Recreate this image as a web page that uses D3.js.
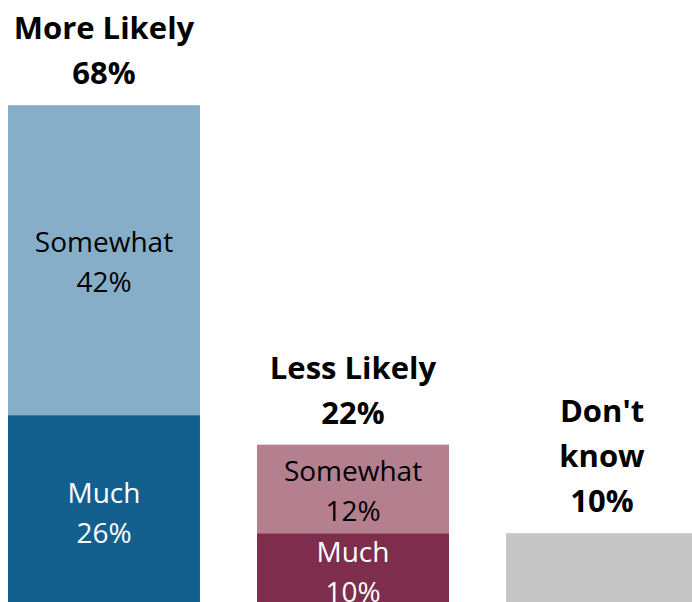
<!DOCTYPE html>
<html>
<head>
<meta charset="utf-8">
<script src="https://cdn.jsdelivr.net/npm/d3@7"></script>
<style>
  body { margin: 0; background: #fff; }
  svg { display: block; font-family: "Open Sans", sans-serif; }
</style>
</head>
<body>
<script>
// data
var categories = ["More Likely", "Less Likely", "Don't know"];
var headerLines = [["More Likely"], ["Less Likely"], ["Don't", "know"]];
var muchValues = [26, 10, 10];      // bottom segment (Don't know is single grey bar)
var somewhatValues = [42, 12, 0];   // top segment
var totals = [68, 22, 10];
var bottomLabels = ["Much", "Much", ""];
var topLabels = ["Somewhat", "Somewhat", ""];

var colours = {
    "More Likely": ["#13608F", "#87AEC8"],
    "Less Likely": ["#7E2D4C", "#B47F8E"],
    "Don't know": ["#C6C6C6", "#C6C6C6"]
};

var width = 692, height = 602;
var baseline = 607;

var svg = d3.select("body").append("svg")
    .attr("width", width)
    .attr("height", height);

var x = d3.scaleBand()
    .domain(categories)
    .range([8, 698])
    .paddingInner(0.229)
    .paddingOuter(0);

var y = d3.scaleLinear()
    .domain([0, 82.25])
    .range([baseline, 0]);

// build segments
var segs = [];
categories.forEach(function(c, i) {
    segs.push({ cat: c, y0: 0, y1: muchValues[i], idx: 0, label: bottomLabels[i], value: muchValues[i] });
    if (somewhatValues[i] > 0) {
        segs.push({ cat: c, y0: muchValues[i], y1: muchValues[i] + somewhatValues[i], idx: 1, label: topLabels[i], value: somewhatValues[i] });
    }
});

svg.append("g").attr("class", "bars")
    .selectAll("rect")
    .data(segs)
    .enter().append("rect")
    .attr("x", d => x(d.cat))
    .attr("width", x.bandwidth())
    .attr("y", d => y(d.y1))
    .attr("height", d => y(d.y0) - y(d.y1))
    .attr("fill", d => colours[d.cat][d.idx]);

// inner labels
var inner = svg.append("g").attr("class", "inner")
    .selectAll("text")
    .data(segs.filter(d => d.label != ""))
    .enter().append("text")
    .attr("text-anchor", "middle")
    .attr("font-size", 28)
    .attr("fill", d => d.idx == 0 ? "#fff" : "#000")
    .attr("x", d => x(d.cat) + x.bandwidth() / 2)
    .attr("y", d => (y(d.y0) + y(d.y1)) / 2 + 2);

inner.append("tspan")
    .attr("x", d => x(d.cat) + x.bandwidth() / 2)
    .attr("dy", -10)
    .text(d => d.label);
inner.append("tspan")
    .attr("x", d => x(d.cat) + x.bandwidth() / 2)
    .attr("dy", 40)
    .text(d => d.value + "%");

// headers above bars
var headers = svg.append("g").attr("class", "headers")
    .selectAll("text")
    .data(categories)
    .enter().append("text")
    .attr("text-anchor", "middle")
    .attr("font-size", 31)
    .attr("font-weight", "bold")
    .attr("fill", "#000");

headers.each(function(c, i) {
    var lines = headerLines[i].concat([totals[i] + "%"]);
    var cx = x(c) + x.bandwidth() / 2;
    var bottom = y(totals[i]) - 21;
    d3.select(this).selectAll("tspan")
        .data(lines)
        .enter().append("tspan")
        .attr("x", cx)
        .attr("y", (d, j) => bottom - (lines.length - 1 - j) * 45)
        .text(d => d);
});
</script>
</body>
</html>
